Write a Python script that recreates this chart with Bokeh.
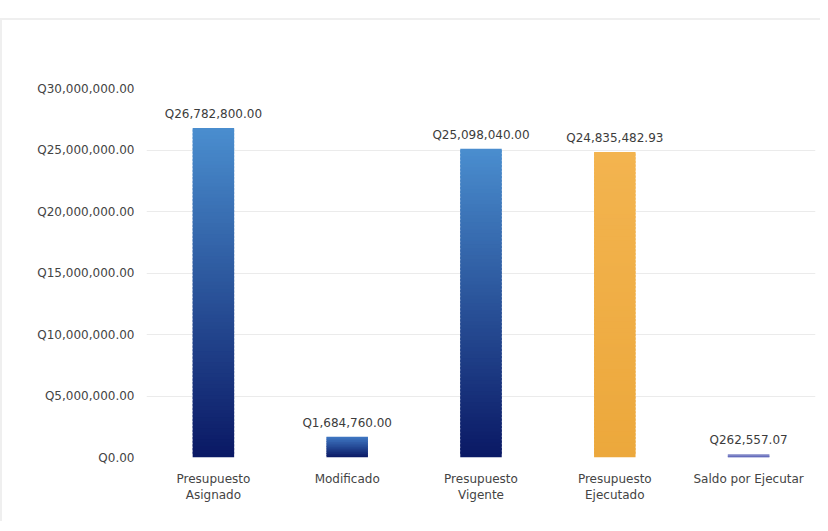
from bokeh.plotting import figure
from bokeh.models import ColumnDataSource, FixedTicker, Range1d
from bokeh.embed import file_html
from bokeh.resources import INLINE
from bokeh.core.properties import value

# ---- data ----
categories = ["Presupuesto\nAsignado", "Modificado", "Presupuesto\nVigente",
              "Presupuesto\nEjecutado", "Saldo por Ejecutar"]
amounts = [26782800.00, 1684760.00, 25098040.00, 24835482.93, 262557.07]
y_ticks = [0, 5000000, 10000000, 15000000, 20000000, 25000000, 30000000]
y_tick_labels = ["Q0.00", "Q5,000,000.00", "Q10,000,000.00", "Q15,000,000.00",
                 "Q20,000,000.00", "Q25,000,000.00", "Q30,000,000.00"]
top_colors = ["#4a8ecf", "#3f78c4", "#4a8ecf", "#f3b44f", "#5b63b8"]
bottom_colors = ["#0a1864", "#0a1864", "#0a1864", "#eca83c", "#5b63b8"]

FONT = "DejaVu Sans"


def hex2rgb(h):
    h = h.lstrip("#")
    return tuple(int(h[i:i + 2], 16) for i in (0, 2, 4))


def mix(c1, c2, t):
    a, b = hex2rgb(c1), hex2rgb(c2)
    return "#%02x%02x%02x" % tuple(round(a[i] + (b[i] - a[i]) * t) for i in range(3))


p = figure(x_range=categories, y_range=Range1d(0, 30000000),
           width=820, height=503, output_backend="svg", toolbar_location=None,
           min_border_left=144, min_border_right=7, min_border_top=68,
           min_border_bottom=66, background_fill_color="white",
           border_fill_color="white", outline_line_color=None)

# gradient bars built from the data values (overlapping slices hide seams)
vmax = max(amounts)
xs, bottoms, tops, colors = [], [], [], []
for cat, v, ct, cb in zip(categories, amounts, top_colors, bottom_colors):
    n = max(12, round(90 * v / vmax))
    for i in range(n):
        xs.append(cat)
        bottoms.append(v * i / n)
        tops.append(v * min(i + 1.6, n) / n)
        colors.append(mix(cb, ct, (i + 0.5) / n))
src = ColumnDataSource(dict(x=xs, bottom=bottoms, top=tops, color=colors))
p.vbar(x="x", bottom="bottom", top="top", width=0.31, source=src,
       fill_color="color", line_color=None)

labels = ["Q{:,.2f}".format(v) for v in amounts]
lsrc = ColumnDataSource(dict(x=categories, y=amounts, text=labels))
p.text(x="x", y="y", text="text", source=lsrc, text_align="center",
       text_baseline="bottom", y_offset=-7, text_font=value(FONT),
       text_font_size="12px", text_color="#3c3c3c")

p.yaxis.ticker = FixedTicker(ticks=y_ticks)
p.yaxis.major_label_overrides = dict(zip(y_ticks, y_tick_labels))
for ax in (p.xaxis[0], p.yaxis[0]):
    ax.axis_line_color = None
    ax.major_tick_line_color = None
    ax.minor_tick_line_color = None
    ax.major_label_text_font = FONT
    ax.major_label_text_font_size = "12px"
    ax.major_label_text_color = "#444444"
p.yaxis.major_label_standoff = 6
p.xaxis.major_label_standoff = 8
p.xgrid.grid_line_color = None
p.ygrid.grid_line_color = "#ebebeb"
p.ygrid.grid_line_width = 1

p.styles = {"border-top": "2px solid #efefef", "border-left": "2px solid #efefef",
            "margin-top": "18px"}

open("out.html", "w").write(file_html(p, INLINE))
